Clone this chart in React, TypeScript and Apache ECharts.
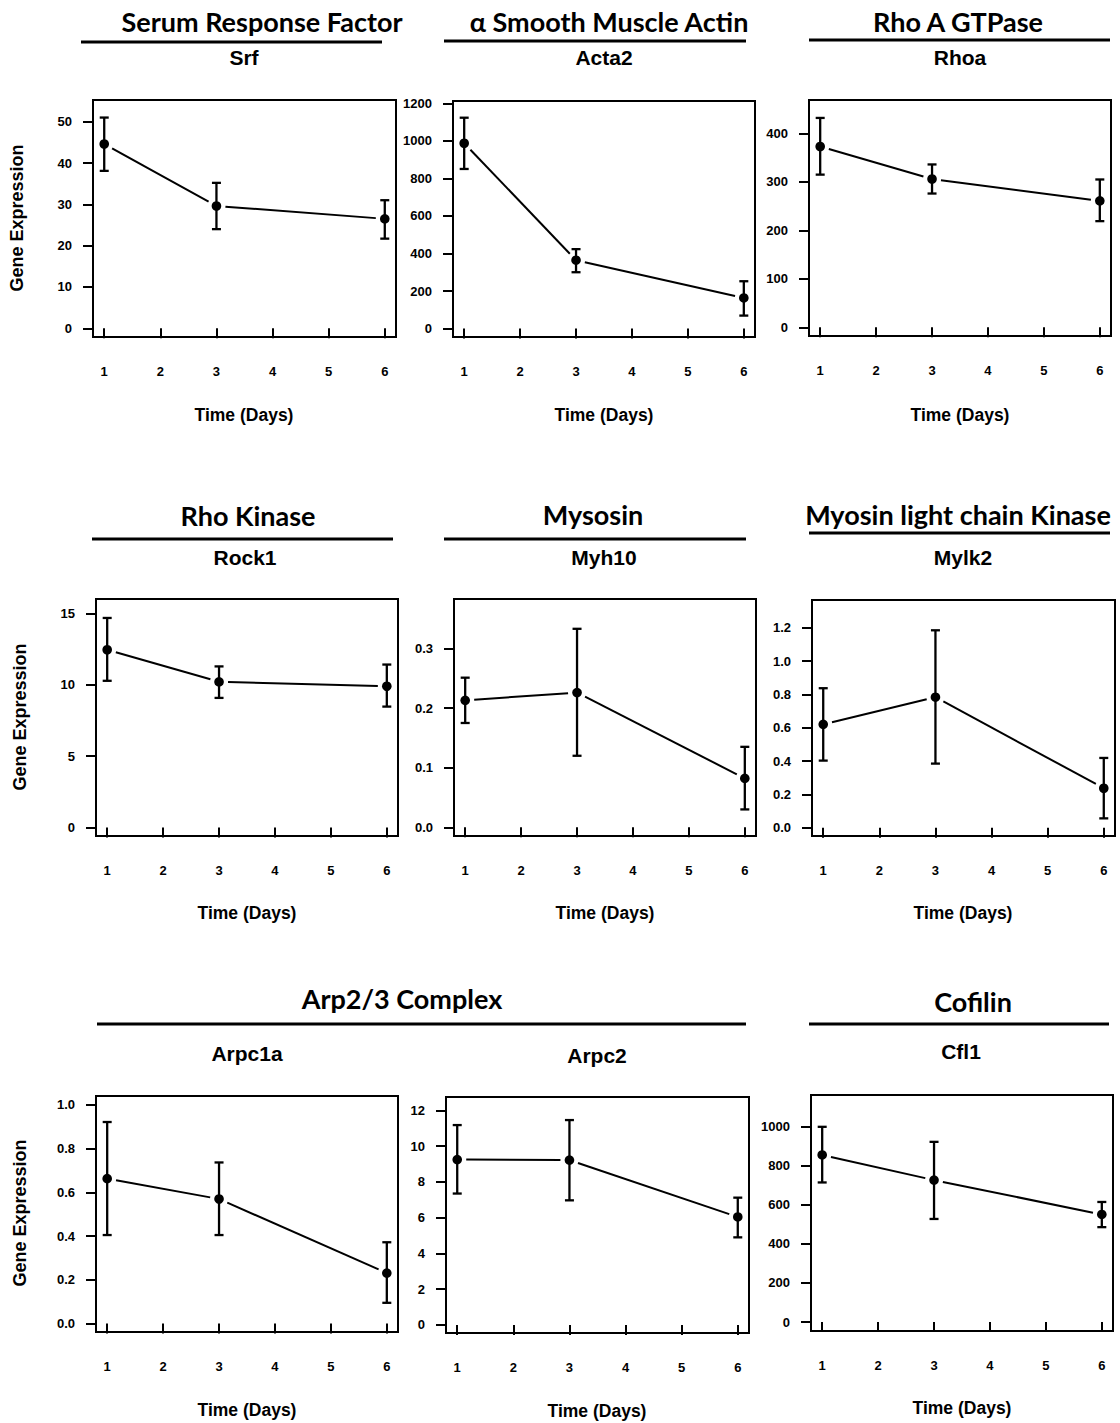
import React, { useEffect, useRef } from "react";
import * as echarts from "echarts";

const DAYS = [1, 3, 6];
const X_TICKS = [1, 2, 3, 4, 5, 6];

const SRF_MEAN = [44.6, 29.6, 26.5];
const SRF_LOW = [38.1, 24.0, 21.7];
const SRF_HIGH = [51.0, 35.2, 31.0];
const SRF_TICKS = [0, 10, 20, 30, 40, 50];

const ACTA2_MEAN = [987, 364, 163];
const ACTA2_LOW = [850, 300, 69];
const ACTA2_HIGH = [1123, 423, 252];
const ACTA2_TICKS = [0, 200, 400, 600, 800, 1000, 1200];

const RHOA_MEAN = [373, 306, 261];
const RHOA_LOW = [315, 276, 219];
const RHOA_HIGH = [432, 336, 305];
const RHOA_TICKS = [0, 100, 200, 300, 400];

const ROCK1_MEAN = [12.47, 10.22, 9.91];
const ROCK1_LOW = [10.29, 9.09, 8.48];
const ROCK1_HIGH = [14.7, 11.3, 11.43];
const ROCK1_TICKS = [0, 5, 10, 15];

const MYH10_MEAN = [0.213, 0.226, 0.082];
const MYH10_LOW = [0.175, 0.12, 0.03];
const MYH10_HIGH = [0.251, 0.333, 0.135];
const MYH10_TICKS = [0, 0.1, 0.2, 0.3];

const MYLK2_MEAN = [0.621, 0.784, 0.237];
const MYLK2_LOW = [0.403, 0.385, 0.056];
const MYLK2_HIGH = [0.838, 1.186, 0.419];
const MYLK2_TICKS = [0, 0.2, 0.4, 0.6, 0.8, 1.0, 1.2];

const ARPC1A_MEAN = [0.663, 0.57, 0.231];
const ARPC1A_LOW = [0.405, 0.405, 0.095];
const ARPC1A_HIGH = [0.922, 0.737, 0.372];
const ARPC1A_TICKS = [0, 0.2, 0.4, 0.6, 0.8, 1.0];

const ARPC2_MEAN = [9.25, 9.22, 6.04];
const ARPC2_LOW = [7.35, 6.97, 4.9];
const ARPC2_HIGH = [11.18, 11.46, 7.12];
const ARPC2_TICKS = [0, 2, 4, 6, 8, 10, 12];

const CFL1_MEAN = [856, 727, 551];
const CFL1_LOW = [715, 528, 486];
const CFL1_HIGH = [1000, 923, 615];
const CFL1_TICKS = [0, 200, 400, 600, 800, 1000];

const TITLES = [
  { text: "Serum Response Factor", x: 262, y: 21 },
  { text: "α Smooth Muscle Actin", x: 609, y: 21 },
  { text: "Rho A GTPase", x: 958, y: 21 },
  { text: "Rho Kinase", x: 248, y: 515 },
  { text: "Mysosin", x: 593, y: 514 },
  { text: "Myosin light chain Kinase", x: 958, y: 514 },
  { text: "Arp2/3 Complex", x: 402, y: 998 },
  { text: "Cofilin", x: 973, y: 1001 },
];

const RULES = [
  [81, 382, 42], [444, 746, 41], [809, 1110, 40],
  [92, 393, 539], [444, 746, 539], [809, 1110, 533],
  [97, 746, 1024], [809, 1109, 1024],
];

const PANELS = [
  { gene: "Srf", mean: SRF_MEAN, low: SRF_LOW, high: SRF_HIGH, ticks: SRF_TICKS, dec: 0, min: -2.1, max: 55.25, box: [93, 100, 303, 237], sub: [244, 57], time: [244, 415] },
  { gene: "Acta2", mean: ACTA2_MEAN, low: ACTA2_LOW, high: ACTA2_HIGH, ticks: ACTA2_TICKS, dec: 0, min: -45, max: 1212, box: [453, 101, 302, 236], sub: [604, 57], time: [604, 415] },
  { gene: "Rhoa", mean: RHOA_MEAN, low: RHOA_LOW, high: RHOA_HIGH, ticks: RHOA_TICKS, dec: 0, min: -18, max: 469, box: [809, 100, 302, 236], sub: [960, 57], time: [960, 415] },
  { gene: "Rock1", mean: ROCK1_MEAN, low: ROCK1_LOW, high: ROCK1_HIGH, ticks: ROCK1_TICKS, dec: 0, min: -0.6, max: 16.03, box: [96, 599, 302, 237], sub: [245, 557], time: [247, 913] },
  { gene: "Myh10", mean: MYH10_MEAN, low: MYH10_LOW, high: MYH10_HIGH, ticks: MYH10_TICKS, dec: 1, min: -0.0146, max: 0.383, box: [454, 599, 302, 237], sub: [604, 557], time: [605, 913] },
  { gene: "Mylk2", mean: MYLK2_MEAN, low: MYLK2_LOW, high: MYLK2_HIGH, ticks: MYLK2_TICKS, dec: 1, min: -0.05, max: 1.368, box: [812, 600, 303, 236], sub: [963, 557], time: [963, 913] },
  { gene: "Arpc1a", mean: ARPC1A_MEAN, low: ARPC1A_LOW, high: ARPC1A_HIGH, ticks: ARPC1A_TICKS, dec: 1, min: -0.0385, max: 1.041, box: [96, 1096, 302, 236], sub: [247, 1053], time: [247, 1410] },
  { gene: "Arpc2", mean: ARPC2_MEAN, low: ARPC2_LOW, high: ARPC2_HIGH, ticks: ARPC2_TICKS, dec: 0, min: -0.45, max: 12.75, box: [446, 1097, 303, 236], sub: [597, 1055], time: [597, 1411] },
  { gene: "Cfl1", mean: CFL1_MEAN, low: CFL1_LOW, high: CFL1_HIGH, ticks: CFL1_TICKS, dec: 0, min: -46, max: 1163, box: [811, 1095, 302, 236], sub: [961, 1051], time: [962, 1408] },
];

const YLABELS = [
  [17, 218], [20, 717], [20, 1213],
];

const SANS = "'Liberation Sans', Arial, sans-serif";
const TITLE_FONT = "Lato, 'Open Sans', sans-serif";

export default function App() {
  const ref = useRef<HTMLDivElement>(null);
  useEffect(() => {
    document.body.style.margin = "0";
    const chart = echarts.init(ref.current!, null, { renderer: "svg" });

    const grids: any[] = [];
    const xAxes: any[] = [];
    const yAxes: any[] = [];
    const series: any[] = [];
    const graphics: any[] = [];

    PANELS.forEach((p, i) => {
      grids.push({
        left: p.box[0], top: p.box[1], width: p.box[2], height: p.box[3],
        show: true, borderColor: "#000", borderWidth: 2, backgroundColor: "transparent",
        containLabel: false,
      });
      xAxes.push({
        type: "value", gridIndex: i, min: 0.8, max: 6.2,
        axisLine: { show: false },
        splitLine: { show: false },
        axisTick: { show: true, inside: false, length: 10, lineStyle: { color: "#000", width: 2 }, customValues: X_TICKS },
        axisLabel: { show: true, margin: 28, color: "#000", fontFamily: SANS, fontWeight: "bold", fontSize: 13, customValues: X_TICKS, formatter: (v: number) => String(v) },
      });
      yAxes.push({
        type: "value", gridIndex: i, min: p.min, max: p.max,
        axisLine: { show: false },
        splitLine: { show: false },
        axisTick: { show: true, inside: false, length: 10, lineStyle: { color: "#000", width: 2 }, customValues: p.ticks },
        axisLabel: { show: true, margin: 21, color: "#000", fontFamily: SANS, fontWeight: "bold", fontSize: 13, customValues: p.ticks, formatter: (v: number) => v.toFixed(p.dec) },
      });
      const data = DAYS.map((d, k) => [d, p.mean[k], p.low[k], p.high[k]]);
      series.push({
        type: "custom", xAxisIndex: i, yAxisIndex: i, data,
        clip: false,
        renderItem: (params: any, api: any) => {
          const k = params.dataIndex;
          const x = api.value(0), m = api.value(1), lo = api.value(2), hi = api.value(3);
          const c = api.coord([x, m]);
          const cl = api.coord([x, lo]);
          const ch = api.coord([x, hi]);
          const children: any[] = [];
          const st = { stroke: "#000", lineWidth: 2.3 };
          children.push({ type: "line", shape: { x1: c[0], y1: ch[1], x2: c[0], y2: cl[1] }, style: st });
          children.push({ type: "line", shape: { x1: c[0] - 4.5, y1: ch[1], x2: c[0] + 4.5, y2: ch[1] }, style: st });
          children.push({ type: "line", shape: { x1: c[0] - 4.5, y1: cl[1], x2: c[0] + 4.5, y2: cl[1] }, style: st });
          children.push({ type: "circle", shape: { cx: c[0], cy: c[1], r: 4.8 }, style: { fill: "#000" } });
          if (k < DAYS.length - 1) {
            const n = api.coord([DAYS[k + 1], p.mean[k + 1]]);
            const dx = n[0] - c[0], dy = n[1] - c[1];
            const len = Math.sqrt(dx * dx + dy * dy);
            const g = 9;
            const ux = dx / len, uy = dy / len;
            children.push({ type: "line", shape: { x1: c[0] + ux * g, y1: c[1] + uy * g, x2: n[0] - ux * g, y2: n[1] - uy * g }, style: { stroke: "#000", lineWidth: 2 } });
          }
          return { type: "group", children };
        },
      });
      graphics.push({
        type: "text", x: p.sub[0], y: p.sub[1],
        style: { text: p.gene, align: "center", verticalAlign: "middle", fontFamily: SANS, fontWeight: "bold", fontSize: 21, fill: "#000" },
      });
      graphics.push({
        type: "text", x: p.time[0], y: p.time[1],
        style: { text: "Time (Days)", align: "center", verticalAlign: "middle", fontFamily: SANS, fontWeight: "bold", fontSize: 17.5, fill: "#000" },
      });
    });

    TITLES.forEach((t) => {
      graphics.push({
        type: "text", x: t.x, y: t.y,
        style: { text: t.text, align: "center", verticalAlign: "middle", fontFamily: TITLE_FONT, fontWeight: "bold", fontSize: 27, fill: "#000" },
      });
    });
    RULES.forEach((r) => {
      graphics.push({ type: "line", shape: { x1: r[0], y1: r[2], x2: r[1], y2: r[2] }, style: { stroke: "#000", lineWidth: 3 } });
    });
    YLABELS.forEach((l) => {
      graphics.push({
        type: "text", x: l[0], y: l[1], rotation: Math.PI / 2,
        style: { text: "Gene Expression", align: "center", verticalAlign: "middle", fontFamily: SANS, fontWeight: "bold", fontSize: 18, fill: "#000" },
      });
    });

    chart.setOption({
      animation: false,
      backgroundColor: "#fff",
      grid: grids,
      xAxis: xAxes,
      yAxis: yAxes,
      series,
      graphic: graphics,
    });
    return () => chart.dispose();
  }, []);
  return <div ref={ref} style={{ width: 1120, height: 1423 }} />;
}
